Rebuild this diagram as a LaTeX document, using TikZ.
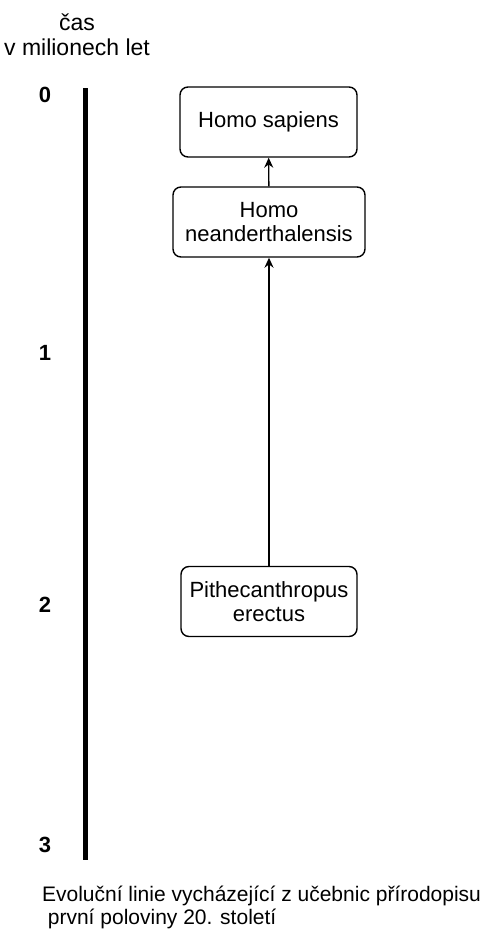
\documentclass[tikz,border=0pt]{standalone}
\usepackage{fontspec}
\setmainfont{Liberation Sans}
\usepackage{tikz}
\usetikzlibrary{arrows.meta}

\begin{document}
\begin{tikzpicture}[x=0.5pt, y=-0.5pt, >={Stealth[length=5pt,width=4.5pt]},
  every node/.style={font=\fontsize{11}{12}\selectfont},
  species/.style={draw, line width=0.7pt, rounded corners=4pt, align=center, minimum height=35pt, inner sep=2pt},
  tick/.style={font=\fontsize{11}{12}\selectfont\bfseries}]
  \useasboundingbox (0,0) rectangle (484,948);
  % osa casu
  \node[align=center, font=\fontsize{11.5}{12.5}\selectfont] (axis) at (77,35) {čas\\v milionech let};
  \coordinate (bartop) at (85,88);
  \coordinate (barbot) at (85,860);
  \draw[line width=2.5pt] (bartop) -- (barbot);
  \node[tick] (t0) at (45,95) {0};
  \node[tick] (t1) at (45,353) {1};
  \node[tick] (t2) at (45,605) {2};
  \node[tick] (t3) at (45,845) {3};
  % druhy
  \node[species, minimum width=88.5pt] (sapiens) at (268.5,122) {Homo sapiens};
  \node[species, minimum width=96pt] (neander) at (269,222) {Homo\\neanderthalensis};
  \node[species, minimum width=88pt] (pithec) at (269,601.5) {Pithecanthropus\\erectus};
  \draw[->, line width=0.7pt] (pithec) -- (neander);
  \draw[->, line width=0.7pt] (neander) -- (sapiens);
  % popisek
  \node[align=left, anchor=north west, font=\fontsize{10.5}{11.5}\selectfont] (caption) at (35,879) {Evoluční linie vycházející z učebnic přírodopisu\\\ první poloviny 20. století};
\end{tikzpicture}
\end{document}
